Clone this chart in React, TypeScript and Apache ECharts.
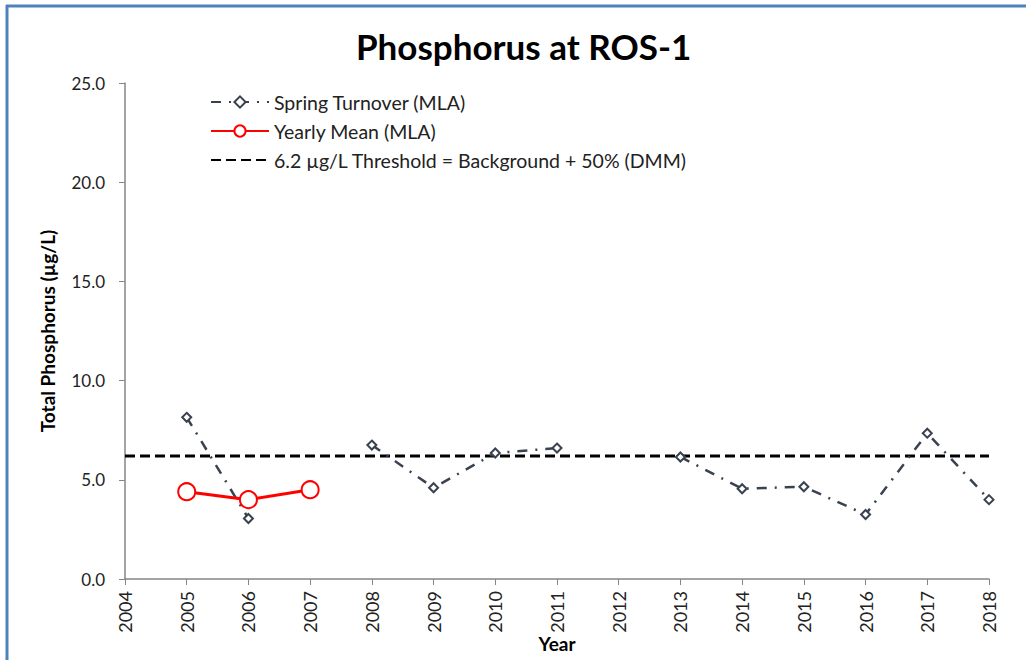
import React, { useEffect, useRef } from "react";
import * as echarts from "echarts";

const years = [2005, 2006, 2007, 2008, 2009, 2010, 2011, 2012, 2013, 2014, 2015, 2016, 2017, 2018];
const springTurnover = [8.15, 3.05, null, 6.75, 4.6, 6.35, 6.6, null, 6.15, 4.55, 4.65, 3.25, 7.35, 4.0];
const meanYears = [2005, 2006, 2007];
const yearlyMean = [4.4, 4.0, 4.5];
const thresholdYears = [2004, 2018];
const thresholdValue = 6.2;

const FONT = "Lato, 'Open Sans', sans-serif";

export default function App() {
  const ref = useRef<HTMLDivElement>(null);
  useEffect(() => {
    if (!ref.current) return;
    const chart = echarts.init(ref.current, null, { renderer: "svg" });
    chart.setOption({
      animation: false,
      backgroundColor: "#ffffff",
      textStyle: { fontFamily: FONT },
      title: {
        text: "Phosphorus at ROS-1",
        left: 351,
        top: 23,
        textStyle: { fontFamily: FONT, fontSize: 35, fontWeight: "bold", color: "#000" },
      },
      legend: {
        orient: "vertical",
        left: 205,
        top: 87,
        itemWidth: 58,
        itemHeight: 14,
        itemGap: 9,
        textStyle: { fontFamily: FONT, fontSize: 19.5, color: "#222" },
        data: [
          "Spring Turnover (MLA)",
          "Yearly Mean (MLA)",
          "6.2 µg/L Threshold = Background + 50% (DMM)",
        ],
      },
      grid: { left: 125, right: 37, top: 83, bottom: 81, containLabel: false, outerBoundsMode: "none" },
      xAxis: {
        type: "value",
        min: 2004,
        max: 2018,
        interval: 1,
        name: "Year",
        nameLocation: "middle",
        nameGap: 64,
        nameMoveOverlap: false,
        nameTextStyle: {
          fontFamily: FONT,
          fontSize: 19,
          fontWeight: "bold",
          color: "#000",
          verticalAlign: "middle",
          lineHeight: 19,
        },
        axisLine: { show: true, lineStyle: { color: "#868686", width: 1.5 } },
        axisTick: { show: true, length: 6, lineStyle: { color: "#868686" } },
        splitLine: { show: false },
        axisLabel: {
          rotate: 90,
          margin: 12,
          fontFamily: FONT,
          fontSize: 18,
          color: "#222",
          formatter: (v: number) => String(v),
        },
      },
      yAxis: {
        type: "value",
        min: 0,
        max: 25,
        interval: 5,
        name: "Total Phosphorus (µg/L)",
        nameLocation: "middle",
        nameGap: 68,
        nameMoveOverlap: false,
        nameTextStyle: { fontFamily: FONT, fontSize: 19, fontWeight: "bold", color: "#000" },
        axisLine: { show: true, lineStyle: { color: "#868686", width: 1.5 } },
        axisTick: { show: true, length: 6, lineStyle: { color: "#868686" } },
        splitLine: { show: false },
        axisLabel: {
          margin: 20,
          fontFamily: FONT,
          fontSize: 17,
          color: "#222",
          formatter: (v: number) => v.toFixed(1),
        },
      },
      series: [
        {
          name: "6.2 µg/L Threshold = Background + 50% (DMM)",
          type: "line",
          data: thresholdYears.map((y) => [y, thresholdValue]),
          symbol: "none",
          lineStyle: { color: "#000", width: 3, type: [10, 5] },
          itemStyle: { color: "rgba(0,0,0,0)" },
          z: 1,
        },
        {
          name: "Spring Turnover (MLA)",
          type: "line",
          data: years.map((y, i) => [y, springTurnover[i]]),
          connectNulls: false,
          symbol: "diamond",
          symbolSize: 9,
          lineStyle: { color: "#3a4250", width: 2.5, type: [10, 8, 2, 8] },
          itemStyle: { color: "#ffffff", borderColor: "#3a4250", borderWidth: 2 },
          z: 3,
        },
        {
          name: "Yearly Mean (MLA)",
          type: "line",
          data: meanYears.map((y, i) => [y, yearlyMean[i]]),
          symbol: "circle",
          symbolSize: 17,
          lineStyle: { color: "#ff0000", width: 3 },
          itemStyle: { color: "#ffffff", borderColor: "#ff0000", borderWidth: 2 },
          z: 4,
        },
      ],
      graphic: [
        {
          type: "line",
          shape: { x1: 6, y1: 6, x2: 1026, y2: 6 },
          style: { stroke: "#4f81bd", lineWidth: 3 },
        },
        {
          type: "line",
          shape: { x1: 7, y1: 5, x2: 7, y2: 660 },
          style: { stroke: "#4f81bd", lineWidth: 3 },
        },
      ],
    });
    return () => chart.dispose();
  }, []);
  return (
    <div
      ref={ref}
      style={{ position: "fixed", left: 0, top: 0, width: 1026, height: 660 }}
    />
  );
}
